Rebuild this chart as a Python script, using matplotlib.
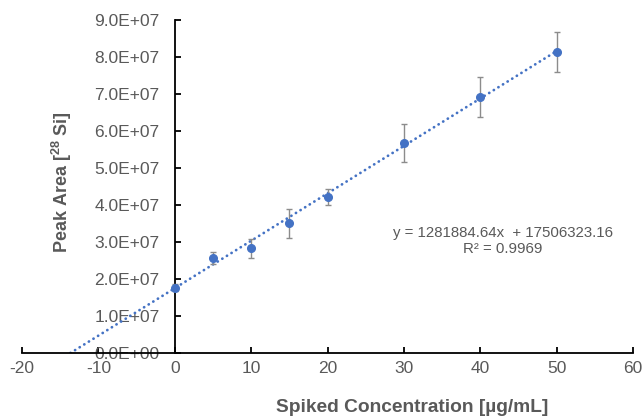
import matplotlib
matplotlib.use("Agg")
import matplotlib.pyplot as plt
import numpy as np

plt.rcParams['font.family'] = ['Liberation Sans', 'DejaVu Sans']
plt.rcParams['axes.unicode_minus'] = False
plt.rcParams['mathtext.fontset'] = 'custom'
plt.rcParams['mathtext.rm'] = 'Liberation Sans:bold'
plt.rcParams['mathtext.default'] = 'rm'

conc = [0, 5, 10, 15, 20, 30, 40, 50]
peak_area = [1.77e7, 2.57e7, 2.83e7, 3.51e7, 4.22e7, 5.67e7, 6.92e7, 8.13e7]
peak_err = [0.10e7, 0.17e7, 0.25e7, 0.39e7, 0.22e7, 0.51e7, 0.53e7, 0.54e7]
slope = 1281884.64
intercept = 17506323.16
r2 = 0.9969
x_ticks = [-20, -10, 0, 10, 20, 30, 40, 50, 60]
y_ticks = [0, 1e7, 2e7, 3e7, 4e7, 5e7, 6e7, 7e7, 8e7, 9e7]

blue = '#4472C4'
grey = '#595959'

fig = plt.figure(figsize=(6.44, 4.16), dpi=100)
ax = fig.add_axes([22/644, 1-353/416, (633-22)/644, (353-20)/416])

# trendline
x0 = -intercept / slope
xt = np.array([x0, max(conc)])
ax.plot(xt, slope*xt + intercept, color=blue, lw=2.0, linestyle=(0, (0.05, 1.9)),
        dash_capstyle='round', zorder=2)

ax.errorbar(conc, peak_area, yerr=peak_err, fmt='o', color=blue, ms=5.5,
            ecolor='#8c8c8c', elinewidth=1.0, capsize=2.5, capthick=1.0,
            zorder=4, clip_on=False)

ax.set_xlim(-20, 60)
ax.set_ylim(0, 9e7)
ax.set_xticks(x_ticks)
ax.set_yticks(y_ticks)
ax.set_yticklabels(["0.0E+00" if v == 0 else f"{v/1e7:.1f}E+07" for v in y_ticks])

for s in ['top', 'right']:
    ax.spines[s].set_visible(False)
ax.spines['left'].set_position(('data', 0))
ax.spines['bottom'].set_position(('data', 0))
for s in ['left', 'bottom']:
    ax.spines[s].set_linewidth(1.3)
    ax.spines[s].set_color('black')
    ax.spines[s].set_zorder(3)

ax.tick_params(axis='y', direction='in', length=4, width=1.3, pad=11,
               labelsize=12.5, labelcolor=grey)
ax.tick_params(axis='x', direction='in', length=4, width=1.3, pad=6,
               labelsize=12.5, labelcolor=grey)

ax.set_xlabel("Spiked Concentration [µg/mL]", fontsize=13.8, fontweight='bold', color=grey)
ax.xaxis.set_label_coords((412-22)/611, -(399-353)/333)
ax.set_ylabel("Peak Area [$^{28}$ Si]", fontsize=13, fontweight='bold', color=grey)
ax.yaxis.set_label_coords((74-22)/611, (353-182)/333)

ax.text((503-175)/7.6375, (353-241)/37*1e7,
        f"y = {slope:.2f}x  + {intercept:.2f}\nR² = {r2}",
        ha='center', va='center', fontsize=10.8, color=grey, linespacing=1.15)

fig.savefig("out.png", dpi=100)
